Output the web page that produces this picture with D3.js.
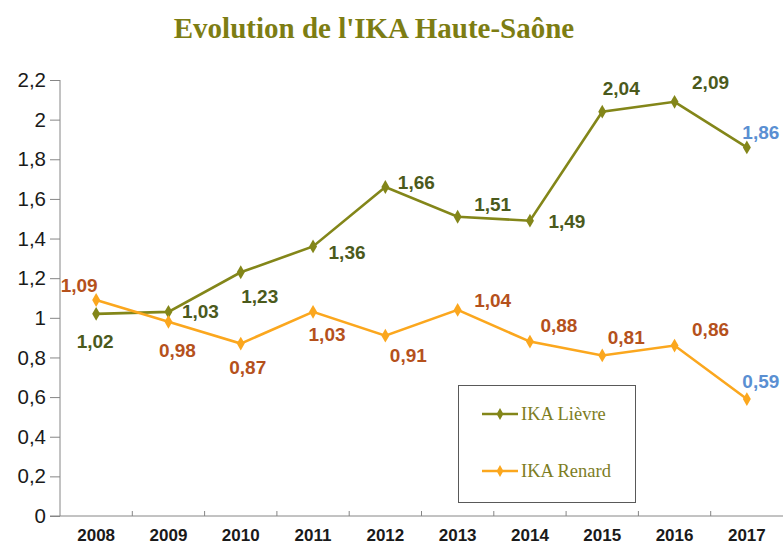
<!DOCTYPE html>
<html><head><meta charset="utf-8">
<script src="https://cdn.jsdelivr.net/npm/d3@7"></script>
<style>body{margin:0;background:#fff}svg{display:block}</style>
</head><body>
<svg id="c" width="784" height="544"></svg>
<script>
const years = ["2008","2009","2010","2011","2012","2013","2014","2015","2016","2017"];
const lievre = [1.02,1.03,1.23,1.36,1.66,1.51,1.49,2.04,2.09,1.86];
const renard = [1.09,0.98,0.87,1.03,0.91,1.04,0.88,0.81,0.86,0.59];
const yTicks = [0,0.2,0.4,0.6,0.8,1,1.2,1.4,1.6,1.8,2,2.2];
const seriesNames = ["IKA Lièvre","IKA Renard"];
const title = "Evolution de l'IKA Haute-Saône";

// label layout (offsets from point, px)
const lievreOff = [[-1,27],[32,-1],[19,24],[34,6],[31,-5],[35,-13],[37,0],[19,-24],[36,-20],[14,-15]];
const renardOff = [[-17,-15],[9,28],[7,24],[14,22],[23,20],[35,-10],[29,-16],[24,-18],[36,-16],[14,-18]];

const svg = d3.select("#c");
const x = d3.scaleBand().domain(years).range([60,783]);
const y = d3.scaleLinear().domain([0,2.2]).range([516,80]);
const fmt = v => String(v).replace(".", ",");

svg.append("text").attr("x",374).attr("y",38).attr("text-anchor","middle")
  .attr("font-family","Liberation Serif, Times New Roman, serif").attr("font-weight","bold")
  .attr("font-size",29).attr("fill","#7d7d13").text(title);

// y axis
const ya = svg.append("g").attr("transform","translate(60,0)")
  .call(d3.axisLeft(y).tickValues(yTicks).tickSize(10).tickPadding(4).tickFormat(d => fmt(d)));
ya.select(".domain").attr("stroke","#868686").attr("d","M0,80V516");
ya.selectAll(".tick line").attr("stroke","#868686");
ya.selectAll(".tick text").attr("font-family","Liberation Sans, Arial, sans-serif").attr("font-size",20.5).attr("fill","#1a1a1a");

// x axis
const xa = svg.append("g").attr("transform","translate(0,516)")
  .call(d3.axisBottom(x).tickSize(0).tickPadding(13));
xa.select(".domain").attr("stroke","#868686").attr("d","M50,0H783");
xa.selectAll(".tick text").attr("font-family","Liberation Sans, Arial, sans-serif").attr("font-weight","bold").attr("font-size",17).attr("fill","#1a1a1a");
svg.append("g").selectAll("line").data(years.slice(1)).join("line")
  .attr("x1",d=>x(d)).attr("x2",d=>x(d)).attr("y1",516).attr("y2",511).attr("stroke","#868686");

const cx = d => x(d) + x.bandwidth()/2;
const series = [
  {vals: lievre, line:"#838619", lab:"#4b5a1c", off: lievreOff},
  {vals: renard, line:"#fba71e", lab:"#b5511c", off: renardOff}
];
series.forEach(s => {
  const pts = years.map((yr,i)=>[cx(yr), y(s.vals[i])]);
  svg.append("path").attr("d", d3.line()(pts)).attr("fill","none").attr("stroke",s.line).attr("stroke-width",2.6);
  svg.append("g").selectAll("path").data(pts).join("path")
    .attr("transform",p=>`translate(${p[0]},${p[1]})`).attr("d",d3.symbol().type(d3.symbolDiamond).size(55)).attr("fill",s.line);
  svg.append("g").selectAll("text").data(s.vals).join("text")
    .attr("x",(v,i)=>pts[i][0]+s.off[i][0]).attr("y",(v,i)=>pts[i][1]+s.off[i][1])
    .attr("dy","0.36em").attr("text-anchor","middle")
    .attr("font-family","Liberation Sans, Arial, sans-serif").attr("font-weight","bold").attr("font-size",19)
    .attr("fill",(v,i)=> i===years.length-1 ? "#5a8fd2" : s.lab)
    .text(v=>fmt(v));
});

// legend
const lg = svg.append("g");
lg.append("rect").attr("x",458.5).attr("y",385.5).attr("width",177).attr("height",117).attr("fill","#fff").attr("stroke","#595959");
[414,471].forEach((ly,i)=>{
  const col = series[i].line;
  lg.append("line").attr("x1",482).attr("x2",518).attr("y1",ly).attr("y2",ly).attr("stroke",col).attr("stroke-width",2.6);
  lg.append("path").attr("transform",`translate(500,${ly})`).attr("d",d3.symbol().type(d3.symbolDiamond).size(40)).attr("fill",col);
  lg.append("text").attr("x",521).attr("y",ly).attr("dy","0.33em")
    .attr("font-family","Liberation Serif, Times New Roman, serif").attr("font-size",18.5).attr("fill","#7d7d1f").text(seriesNames[i]);
});
</script>
</body></html>
